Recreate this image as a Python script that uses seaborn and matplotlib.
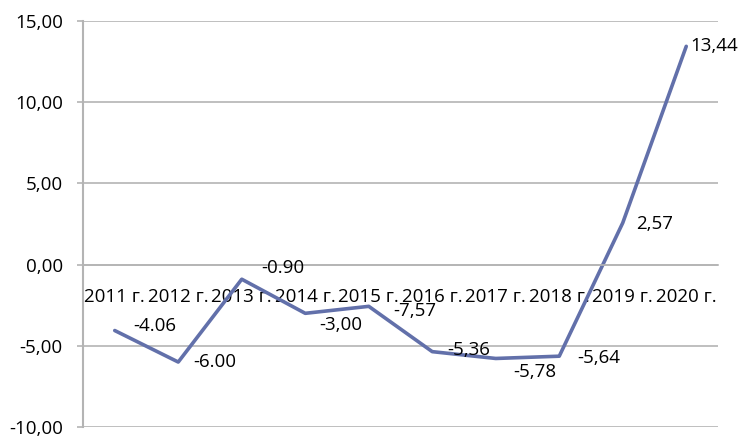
import pandas as pd
import seaborn as sns
import matplotlib.pyplot as plt
from matplotlib.ticker import FuncFormatter, FixedLocator

# Данные
years = ["2011 г.", "2012 г.", "2013 г.", "2014 г.", "2015 г.",
         "2016 г.", "2017 г.", "2018 г.", "2019 г.", "2020 г."]
values = [-4.06, -6.00, -0.90, -3.00, -2.57, -5.36, -5.78, -5.64, 2.57, 13.44]
point_labels = ["-4.06", "-6.00", "-0.90", "-3,00", "-7,57",
                "-5,36", "-5,78", "-5,64", "2,57", "13,44"]
y_ticks = [-10, -5, 0, 5, 10, 15]

# смещения подписей (пиксели)
label_offsets = [(40, 5), (36, 0), (41, 11), (35, -12), (46, -5),
                 (36, 2), (39, -14), (39, -2), (32, -1), (28, 0)]

sns.set_style("white")
plt.rcParams['font.family'] = ['Open Sans', 'DejaVu Sans']

df = pd.DataFrame({"year": years, "value": values})

fig = plt.figure(figsize=(7.41, 4.38), dpi=100)
ax = fig.add_axes([83 / 741, 1 - 427 / 438, 635 / 741, 406 / 438])

sns.lineplot(data=df, x="year", y="value", sort=False, color="#6270AA",
             linewidth=2.6, ax=ax)

ax.set_xlim(-0.5, len(years) - 0.5)
ax.set_ylim(-10, 15)
ax.set_xlabel("")
ax.set_ylabel("")

grid_color = "#B4B4B4"
ax.yaxis.set_major_locator(FixedLocator(y_ticks))
ax.yaxis.set_major_formatter(FuncFormatter(lambda v, p: f"{v:.2f}".replace(".", ",")))
ax.grid(axis="y", color=grid_color, linewidth=1.2)
ax.set_axisbelow(True)

# ось X проходит через ноль
ax.spines["bottom"].set_position(("data", 0))
for s in ["top", "right"]:
    ax.spines[s].set_visible(False)
ax.spines["left"].set_color(grid_color)
ax.spines["left"].set_linewidth(1.5)
ax.spines["bottom"].set_color(grid_color)
ax.spines["bottom"].set_linewidth(1.2)

ax.set_xticks(range(len(years)))
ax.set_xticklabels(years)
ax.set_xticks([i - 0.5 for i in range(len(years) + 1)], minor=True)
ax.tick_params(axis="x", which="major", length=0, pad=17, labelsize=13.5, labelcolor="black")
ax.tick_params(axis="x", which="minor", length=4, direction="out", color=grid_color, width=1.2)
ax.tick_params(axis="y", length=4.5, direction="out", color=grid_color, width=1.2,
               pad=10, labelsize=13.5, labelcolor="black", left=True)

for i, (lab, (dx, dy)) in enumerate(zip(point_labels, label_offsets)):
    ax.annotate(lab, (i, values[i]), xytext=(dx, dy), textcoords="offset pixels",
                ha="center", va="center", fontsize=13.5, color="black",
                annotation_clip=False)

fig.savefig("out.png", dpi=100)
